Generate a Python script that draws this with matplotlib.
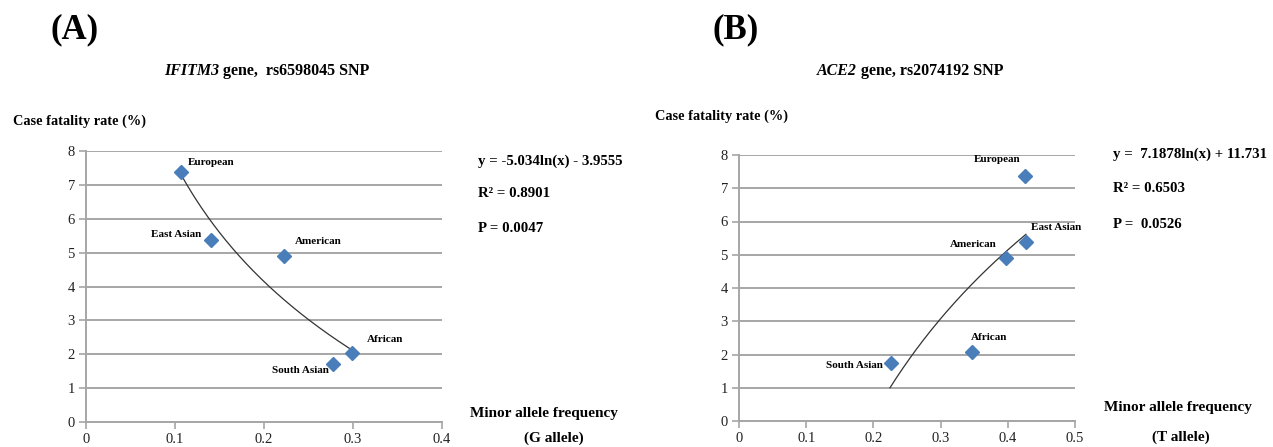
import numpy as np
import matplotlib
matplotlib.use("Agg")
import matplotlib.pyplot as plt

# ======================
# Data
# ======================
populations = ["European", "East Asian", "American", "South Asian", "African"]

# (A) IFITM3 rs6598045, G allele frequency vs case fatality rate
maf_a = [0.107, 0.141, 0.222, 0.278, 0.299]
cfr_a = [7.38, 5.38, 4.89, 1.71, 2.05]
fit_a = (-5.034, -3.9555)          # y = a*ln(x) + b
stats_a = ["y = -5.034ln(x) - 3.9555", "R² = 0.8901", "P = 0.0047"]

# (B) ACE2 rs2074192, T allele frequency vs case fatality rate
maf_b = [0.425, 0.427, 0.398, 0.226, 0.346]
cfr_b = [7.38, 5.38, 4.89, 1.73, 2.07]
fit_b = (7.1878, 11.731)
stats_b = ["y =  7.1878ln(x) + 11.731", "R² = 0.6503", "P =  0.0526"]

W, H = 1273, 447
SERIF = "Liberation Serif"
BLUE = "#4a7ebb"
GRID = "#a6a6a6"

fig = plt.figure(figsize=(W / 100, H / 100), dpi=100)


def px(x, y):
    return x / W, 1 - y / H


def ftext(x, y, s, **kw):
    kw.setdefault("family", SERIF)
    kw.setdefault("weight", "bold")
    kw.setdefault("va", "center")
    fig.text(*px(x, y), s, **kw)


def panel(rect, maf, cfr, fit, xmax, label_offsets):
    ax = fig.add_axes(rect)
    ax.set_xlim(0, xmax)
    ax.set_ylim(0, 8)
    ax.set_xticks(np.arange(0, xmax + 1e-9, 0.1))
    ax.set_yticks(range(0, 9))
    ax.xaxis.set_major_formatter(plt.FuncFormatter(lambda v, p: f"{v:g}"))
    ax.grid(axis="y", color=GRID, lw=1.4)
    ax.set_axisbelow(True)
    for side in ("top", "right"):
        ax.spines[side].set_visible(False)
    for side in ("left", "bottom"):
        ax.spines[side].set_color(GRID)
        ax.spines[side].set_linewidth(1.4)
    ax.tick_params(colors=GRID, length=5, width=1.2, labelcolor="#222222",
                   labelsize=10.5, pad=3)
    for t in ax.get_xticklabels() + ax.get_yticklabels():
        t.set_family(SERIF)

    # log trendline between the outermost points
    xs = np.linspace(min(maf), max(maf), 200)
    if fit[0] > 0:
        xs = np.linspace(np.exp((1 - fit[1]) / fit[0]), max(maf), 200)
    ax.plot(xs, fit[0] * np.log(xs) + fit[1], color="#333333", lw=0.9, zorder=2)

    ax.plot(maf, cfr, "D", color=BLUE, ms=7, zorder=3)
    for name, x, y in zip(populations, maf, cfr):
        dx, dy, ha = label_offsets[name]
        ax.annotate(name, (x, y), xytext=(dx, dy), textcoords="offset pixels",
                    ha=ha, va="center", family=SERIF, weight="bold", fontsize=8)
    return ax


offs_a = {
    "European": (7, 10, "left"),
    "East Asian": (-10, 5, "right"),
    "American": (11, 15, "left"),
    "South Asian": (-5, -6, "right"),
    "African": (15, 13, "left"),
}
offs_b = {
    "European": (-27, 16, "center"),
    "East Asian": (5, 15, "left"),
    "American": (-10, 14, "right"),
    "South Asian": (-8, -2, "right"),
    "African": (18, 15, "center"),
}

l, b = px(86, 422)
r, t = px(442, 151)
panel([l, b, r - l, t - b], maf_a, cfr_a, fit_a, 0.4, offs_a)

l, b = px(739, 421)
r, t = px(1075, 155)
panel([l, b, r - l, t - b], maf_b, cfr_b, fit_b, 0.5, offs_b)

# panel letters
ftext(50, 30, "(A)", fontsize=25)
ftext(712, 30, "(B)", fontsize=25)

# titles (italic gene name)
ftext(219, 71, "IFITM3", fontsize=11.5, style="italic", ha="right")
ftext(219, 71, " gene,  rs6598045 SNP", fontsize=11.5, ha="left")
ftext(857, 71, "ACE2", fontsize=11.5, style="italic", ha="right")
ftext(857, 71, " gene, rs2074192 SNP", fontsize=11.5, ha="left")

# y labels
ftext(13, 121, "Case fatality rate (%)", fontsize=10.3)
ftext(655, 116, "Case fatality rate (%)", fontsize=10.3)

# fit statistics
for s, y in zip(stats_a, [161, 193, 229]):
    ftext(478, y, s, fontsize=10.7)
for s, y in zip(stats_b, [154, 189, 224]):
    ftext(1113, y, s, fontsize=10.7)

# x labels
ftext(544, 413, "Minor allele frequency", fontsize=11, ha="center")
ftext(554, 438, "(G allele)", fontsize=11, ha="center")
ftext(1178, 408, "Minor allele frequency", fontsize=11, ha="center")
ftext(1181, 437, "(T allele)", fontsize=11, ha="center")

fig.savefig("out.png", dpi=100)
